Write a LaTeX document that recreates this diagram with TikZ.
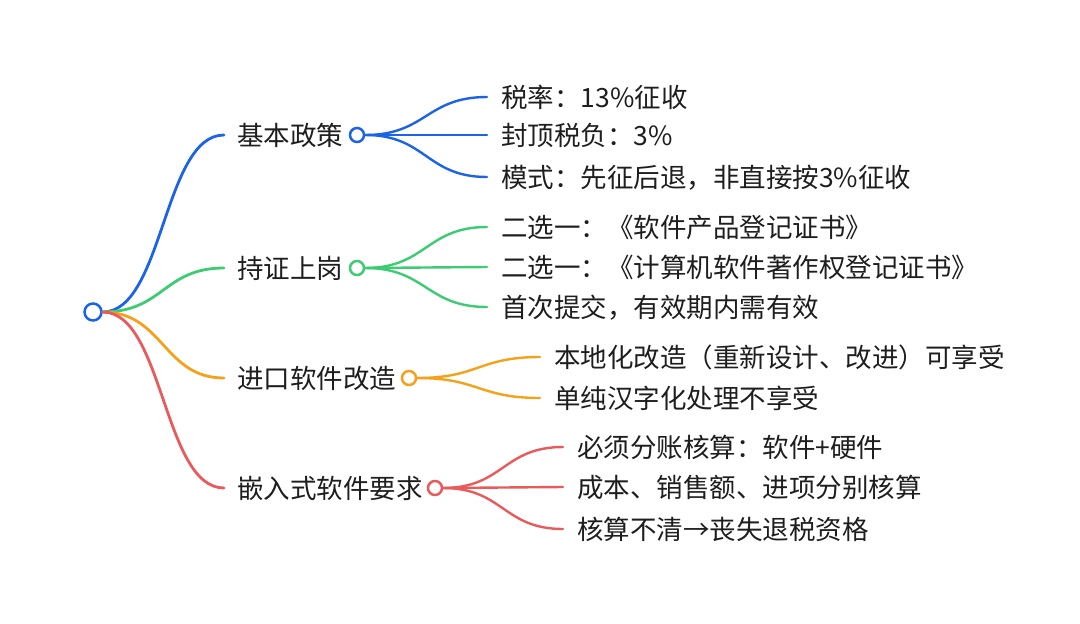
\documentclass[tikz,border=0pt]{standalone}
\usepackage{fontspec}
\setmainfont{Noto Sans CJK SC}
\usetikzlibrary{calc}
\definecolor{ink}{HTML}{1E1E1E}
\definecolor{mblue}{HTML}{1B64E8}
\definecolor{mgreen}{HTML}{3DCB74}
\definecolor{morange}{HTML}{F5A11A}
\definecolor{mred}{HTML}{EB5A5A}

\begin{document}
\begin{tikzpicture}[x=1pt,y=-1pt,font=\fontsize{26.5}{30}\selectfont,
    link/.style={line width=2.8pt,line cap=round,
      to path={let \p1=(\tikztostart), \p2=(\tikztotarget) in
        .. controls ({(\x1+\x2)/2},\y1) and ({(\x1+\x2)/2},\y2) .. (\tikztotarget)}},
    twig/.style={link,line width=2.4pt},
    knob/.style={circle,draw=#1,fill=white,line width=2.5pt,inner sep=0pt,minimum size=14pt},
    topic/.style={anchor=west,text=ink,inner xsep=13pt,inner ysep=0pt,
      text height=21pt,text depth=1pt},
    leaf/.style={topic,inner xsep=14pt}]

  \useasboundingbox (0,0) rectangle (1080,624);

  % root and the four topics
  \node[knob=mblue,minimum size=17pt] (root) at (93,312) {};

  \node[topic] (policy) at (224,135) {基本政策};
  \node[topic] (cert)   at (224,268) {持证上岗};
  \node[topic] (import) at (224,378) {进口软件改造};
  \node[topic] (embed)  at (224,488) {嵌入式软件要求};

  \node[knob=mblue]   (kpolicy) at (357,135) {};
  \node[knob=mgreen]  (kcert)   at (357,268) {};
  \node[knob=morange] (kimport) at (409,378) {};
  \node[knob=mred]    (kembed)  at (435,488) {};

  \draw[link,mblue]   (root.east) to (policy.west);
  \draw[link,mgreen]  (root.east) to (cert.west);
  \draw[link,morange] (root.east) to (import.west);
  \draw[link,mred]    (root.east) to (embed.west);

  % leaves
  \node[leaf] (p1) at (487,97)  {税率：13\%征收};
  \node[leaf] (p2) at (487,135) {封顶税负：3\%};
  \node[leaf] (p3) at (487,177) {模式：先征后退，非直接按3\%征收};

  \node[leaf] (c1) at (487,227) {二选一：《软件产品登记证书》};
  \node[leaf] (c2) at (487,267) {二选一：《计算机软件著作权登记证书》};
  \node[leaf] (c3) at (487,307) {首次提交，有效期内需有效};

  \node[leaf] (i1) at (540,357) {本地化改造（重新设计、改进）可享受};
  \node[leaf] (i2) at (540,398) {单纯汉字化处理不享受};

  \node[leaf] (e1) at (563,447) {必须分账核算：软件+硬件};
  \node[leaf] (e2) at (563,487) {成本、销售额、进项分别核算};
  \node[leaf] (e3) at (563,529) {核算不清→丧失退税资格};

  \foreach \t in {p1,p2,p3}
    \draw[twig,mblue] (kpolicy.east) to (\t.west);
  \foreach \t in {c1,c2,c3}
    \draw[twig,mgreen] (kcert.east) to (\t.west);
  \foreach \t in {i1,i2}
    \draw[twig,morange] (kimport.east) to (\t.west);
  \foreach \t in {e1,e2,e3}
    \draw[twig,mred] (kembed.east) to (\t.west);
\end{tikzpicture}
\end{document}
